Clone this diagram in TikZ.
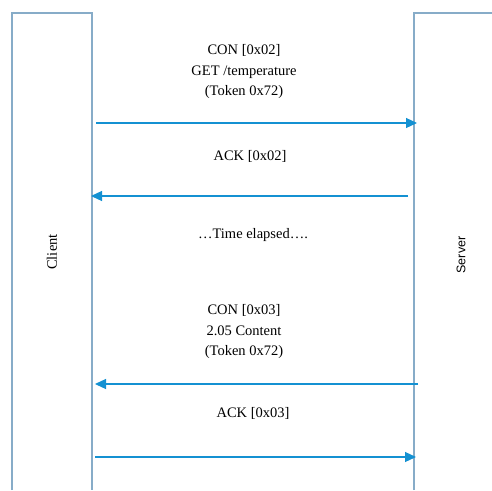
\documentclass[tikz,border=0pt]{standalone}
\usepackage{fontspec}
\setmainfont{Liberation Serif}
\newfontfamily\sansf{Liberation Sans}
\usetikzlibrary{arrows.meta}
\definecolor{boxc}{RGB}{135,172,200}
\definecolor{arrc}{RGB}{20,145,210}
\begin{document}
\begin{tikzpicture}[x=1pt,y=-1pt,
  lane/.style={draw=boxc,line width=1.6pt},
  msg/.style={draw=arrc,line width=1.2pt,-{Triangle[length=11pt,width=10pt]}},
  lbl/.style={font=\rmfamily\fontsize{14.5}{20.5}\selectfont,align=center,inner sep=0pt},
  side/.style={inner sep=0pt,rotate=90}]
\useasboundingbox (0,0) rectangle (492,490);
\draw[lane] (12,490) -- (12,13) -- (92,13) -- (92,490);
\draw[lane] (414,490) -- (414,13) -- (492,13);
\node[side,font=\rmfamily\fontsize{14.5}{17}\selectfont] (client) at (52,252) {Client};
\node[side,font=\sansf\fontsize{12.5}{15}\selectfont] (server) at (461,255) {Server};
\coordinate (a1s) at (96,123); \coordinate (a1e) at (417,123);
\coordinate (a2s) at (408,196); \coordinate (a2e) at (91,196);
\coordinate (a3s) at (418,384); \coordinate (a3e) at (95,384);
\coordinate (a4s) at (95,457); \coordinate (a4e) at (416,457);
\draw[msg] (a1s) -- (a1e);
\draw[msg] (a2s) -- (a2e);
\draw[msg] (a3s) -- (a3e);
\draw[msg] (a4s) -- (a4e);
\node[lbl] (m1) at (244,72) {CON [0x02]\\GET /temperature\\(Token 0x72)};
\node[lbl] (m2) at (250,156) {ACK [0x02]};
\node[lbl] (m3) at (253,235) {…Time elapsed….};
\node[lbl] (m4) at (244,332) {CON [0x03]\\2.05 Content\\(Token 0x72)};
\node[lbl] (m5) at (253,413) {ACK [0x03]};
\end{tikzpicture}
\end{document}
